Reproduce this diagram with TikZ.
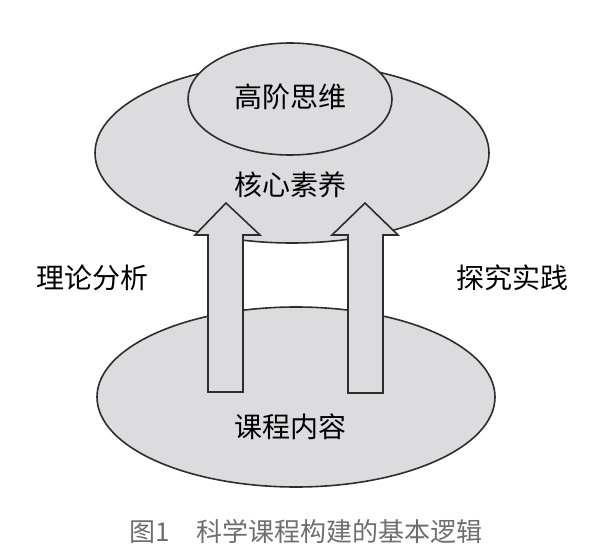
\documentclass[tikz,border=0pt]{standalone}
\usepackage{fontspec}
\usepackage{tikz}
\usetikzlibrary{shapes.geometric, positioning, calc}
\newfontfamily\cjk{Noto Sans CJK SC}
\definecolor{ovalgray}{RGB}{220,220,222}
\definecolor{edgegray}{RGB}{45,45,45}
\definecolor{capgray}{RGB}{110,110,110}
\tikzstyle{oval} = [ellipse, draw=edgegray, line width=1.6pt, fill=ovalgray, inner sep=0pt]
\tikzstyle{txt} = [font=\cjk\fontsize{28}{30}\selectfont, inner sep=0pt]
\tikzstyle{blockarrow} = [draw=edgegray, line width=1.6pt, fill=ovalgray, line join=miter]

\begin{document}
\begin{tikzpicture}[x=1pt, y=-1pt]
  \useasboundingbox (0,0) rectangle (600,554);

  \node [oval, minimum width=394pt, minimum height=180pt] (core) at (292,153) {};
  \node [oval, minimum width=204pt, minimum height=112pt] (high) at (290,99) {};
  \node [oval, minimum width=398pt, minimum height=180pt] (content) at (296,397) {};

  % two block arrows from content up to core
  \draw [blockarrow] (208,392) -- (208,235) -- (195,235) -- (226,203) -- (260,235) -- (243,235) -- (243,392) -- cycle;
  \draw [blockarrow] (348,393) -- (348,235) -- (332,235) -- (365,203) -- (398,235) -- (383,235) -- (383,393) -- cycle;

  \node [txt] (highText) at (290,97) {高阶思维};
  \node [txt] (coreText) at (290,185) {核心素养};
  \node [txt] (contentText) at (290,427) {课程内容};
  \node [txt] (theory) at (92,278) {理论分析};
  \node [txt] (practice) at (512,278) {探究实践};

  \node [font=\cjk\fontsize{26}{28}\selectfont, text=capgray, inner sep=0pt] (caption) at (306,532) {图1\hspace{1em}科学课程构建的基本逻辑};
\end{tikzpicture}
\end{document}
